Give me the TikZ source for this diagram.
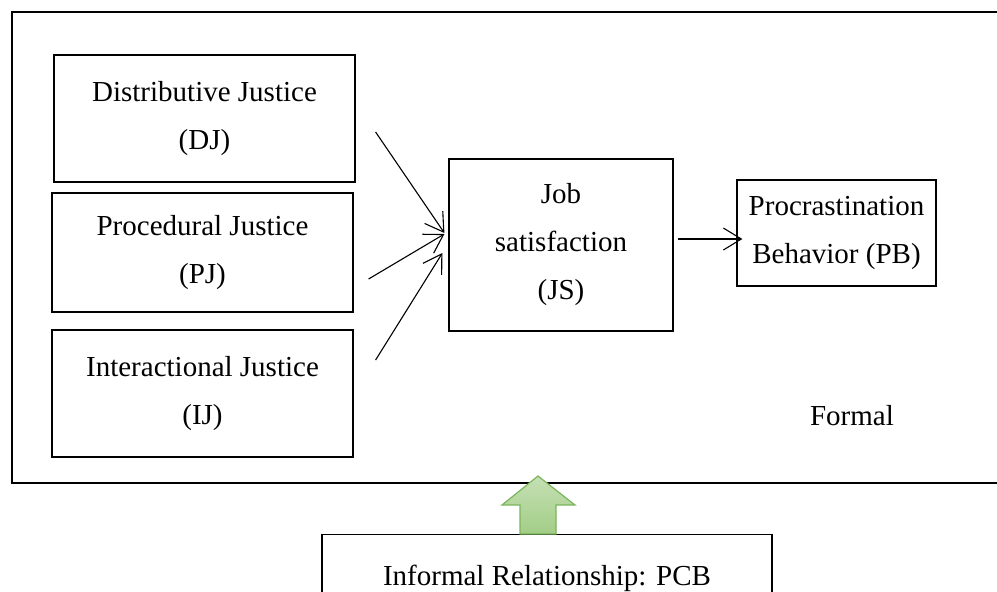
\documentclass[tikz,border=0pt]{standalone}
\usepackage{fontspec}
\setmainfont{Liberation Serif}
\usetikzlibrary{arrows.meta,calc,positioning}
\definecolor{pcbline}{HTML}{7AB55C}
\definecolor{pcbtop}{HTML}{C5E0B4}
\definecolor{pcbbottom}{HTML}{A2CD86}

\begin{document}
\begin{tikzpicture}[x=0.5pt, y=-0.5pt,
  >={Straight Barb[length=9pt,width=11pt]},
  box/.style={draw, line width=0.6pt, align=center, inner sep=0pt,
    font=\fontsize{14.5}{24}\selectfont},
  link/.style={->, line width=0.55pt}]
  \clip (0,0) rectangle (997,591);
  % outer frame (formal)
  \draw[line width=0.9pt] (1010,12) -- (12,12) -- (12,483) -- (1010,483);
  \node[font=\fontsize{14.5}{24}\selectfont, anchor=base] (formal) at (852,425) {Formal};
  % justice boxes
  \node[box, minimum width=150.5pt, minimum height=63.5pt] (dj) at (204.5,118.5) {Distributive Justice\\(DJ)};
  \node[box, minimum width=150.5pt, minimum height=59.5pt] (pj) at (202.5,252.5) {Procedural Justice\\(PJ)};
  \node[box, minimum width=150.5pt, minimum height=63.5pt] (ij) at (202.5,393.5) {Interactional Justice\\(IJ)};
  \node[box, minimum width=112pt, minimum height=86pt] (js) at (561,245) {Job\\satisfaction\\(JS)};
  \node[box, minimum width=99.5pt, minimum height=53pt] (pb) at (836.5,233) {Procrastination\\Behavior (PB)};
  % links
  \draw[link] ($(dj.east)+(20,13.5)$) -- ($(js.west)+(-4,-12)$);
  \draw[link] ($(pj.east)+(15,26.5)$) -- ($(js.west)+(-4,-11)$);
  \draw[link] ($(ij.east)+(22,-33.5)$) -- ($(js.west)+(-6,8)$);
  \draw[link] ($(js.east)+(4,-6)$) -- ($(pb.west)+(6,6)$);
  % informal relationship
  \node[box, anchor=north, minimum width=225pt, text height=25.5pt, text depth=25pt] (informal) at (547,534) {Informal Relationship: PCB};
  \coordinate (up) at ($(informal.north)+(-9,0)$);
  \draw[pcbline, line width=0.6pt, top color=pcbtop, bottom color=pcbbottom]
    (up) ++(-18,0) -- ++(0,-29) -- ++(-18,0) -- ++(36,-29) -- ++(37,29)
    -- ++(-19,0) -- ++(0,29) -- cycle;
\end{tikzpicture}
\end{document}
